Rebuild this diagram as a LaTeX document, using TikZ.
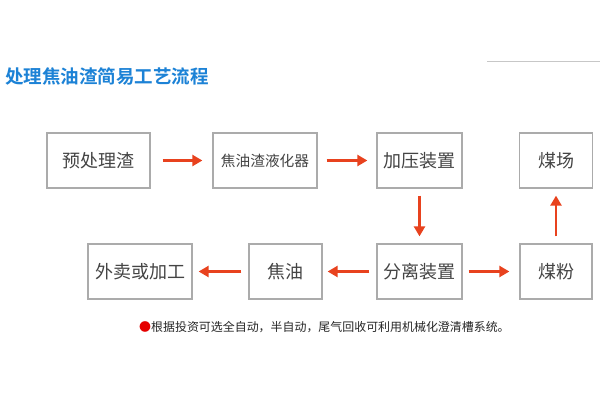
\documentclass[tikz,border=0pt]{standalone}
\usepackage{fontspec}
\setmainfont{Noto Sans CJK SC}
\newfontfamily\cjk{Noto Sans CJK SC}
\newfontfamily\cjkbold{Noto Sans CJK SC Bold}
\usetikzlibrary{arrows.meta}
\definecolor{titleblue}{HTML}{1C82D6}
\definecolor{arrowred}{HTML}{E8421E}
\definecolor{boxgray}{HTML}{ABABAB}
\definecolor{txtgray}{HTML}{444444}
\tikzset{
  stepbox/.style={draw=boxgray, line width=1.3pt, fill=white, inner sep=0pt,
    minimum height=55pt, text=txtgray, font=\cjk\fontsize{18}{18}\selectfont},
  flowarrow/.style={draw=arrowred, line width=2.4pt,
    -{Triangle[length=10pt,width=11pt]}, shorten <=7pt, shorten >=7pt},
}
\begin{document}
\begin{tikzpicture}[x=1pt,y=-1pt]
\useasboundingbox[fill=white] (0,0) rectangle (600,400);
% title
\node[anchor=west, inner sep=0pt, text=titleblue, font=\cjkbold\fontsize{18.5}{18.5}\selectfont] (title) at (5,76) {处理焦油渣简易工艺流程};
% faint rule
\coordinate (r1) at (487,61);
\coordinate (r2) at (600,61);
\draw[draw=black!22, line width=0.8pt] (r1) -- (r2);
% top row
\node[stepbox, minimum width=103pt] (pre) at (98.5,160.5) {预处理渣};
\node[stepbox, minimum width=104pt, font=\cjk\fontsize{14.7}{14.7}\selectfont] (liq) at (265,160.5) {焦油渣液化器};
\node[stepbox, minimum width=85pt] (press) at (419.5,160.5) {加压装置};
\node[stepbox, minimum width=73pt] (yard) at (556,160.5) {煤场};
% bottom row
\node[stepbox, minimum width=104pt] (sell) at (140,271.5) {外卖或加工};
\node[stepbox, minimum width=73pt] (tar) at (285.5,271.5) {焦油};
\node[stepbox, minimum width=85pt] (sep) at (419.5,271.5) {分离装置};
\node[stepbox, minimum width=72pt] (coal) at (556,271.5) {煤粉};
% arrows
\draw[flowarrow, shorten <=12pt, shorten >=10pt] (pre) -- (liq);
\draw[flowarrow, shorten <=9pt, shorten >=9pt] (liq) -- (press);
\draw[flowarrow] (press) -- (sep);
\draw[flowarrow, shorten <=6pt, shorten >=10pt] (sep) -- (coal);
\draw[flowarrow] (coal) -- (yard);
\draw[flowarrow, shorten <=7pt, shorten >=5pt] (sep) -- (tar);
\draw[flowarrow, shorten <=7pt, shorten >=6pt] (tar) -- (sell);
% note
\node[anchor=west, inner sep=0pt, text=black!85, font=\cjk\fontsize{11.95}{11.95}\selectfont] (note) at (139,327) {\textcolor{red!90!black}{●}根据投资可选全自动，半自动，尾气回收可利用机械化澄清槽系统。};
\end{tikzpicture}
\end{document}
